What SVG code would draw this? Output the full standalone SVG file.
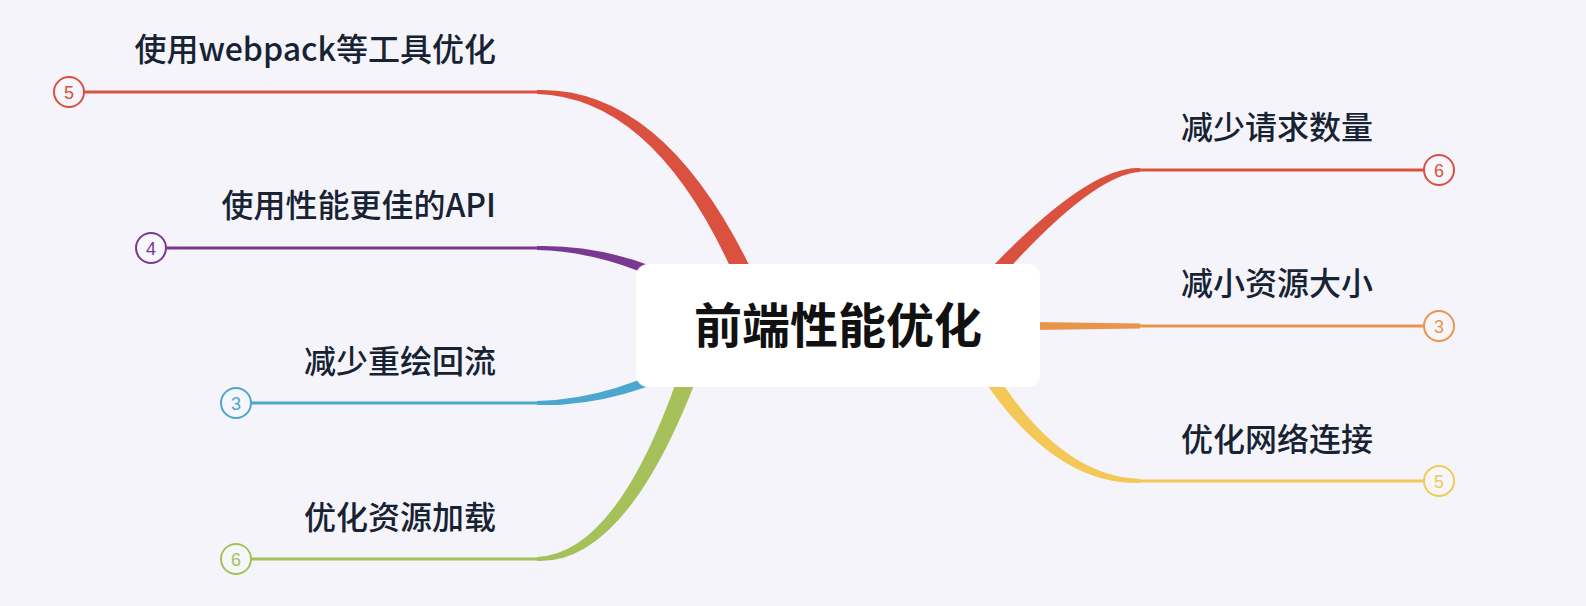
<svg xmlns="http://www.w3.org/2000/svg" width="1586" height="606" viewBox="0 0 1586 606">
<style>
.bg{fill:#F4F4FA}
.lbl{font-family:"Noto Sans CJK SC","Noto Sans",sans-serif;font-size:32px;font-weight:500;fill:#172233}
.root{font-family:"Noto Sans CJK SC","Noto Sans",sans-serif;font-size:48px;font-weight:bold;fill:#111111}
.num{font-family:"Liberation Sans","Noto Sans",sans-serif;font-size:18px;text-anchor:middle}
.ring{fill:#F6F6FB;stroke-width:2}
.thin{fill:none;stroke-width:3}
</style>
<rect class="bg" x="0" y="0" width="1586" height="606"/>
<g id="connectors">
  <path d="M537,90 Q679.1,86 774.3,321.4 L755.7,328.6 Q670.9,98 537,94 Z" fill="#DA5140"/>
  <path d="M84,92 H538" class="thin" stroke="#DA5140"/>
  <path d="M537,246 Q619.6,244 703,289.6 L697,300 Q617.4,252 537,250 Z" fill="#7A3893"/>
  <path d="M166,248 H538" class="thin" stroke="#7A3893"/>
  <path d="M537,405 Q619.6,407 703,361.4 L697,351 Q617.4,399 537,401 Z" fill="#4CA7CE"/>
  <path d="M251,403 H538" class="thin" stroke="#4CA7CE"/>
  <path d="M537,557 Q627.6,553 695.5,322 L714.5,328 Q636.4,565 537,561 Z" fill="#A6C15A"/>
  <path d="M251,559 H538" class="thin" stroke="#A6C15A"/>
  <path d="M1140,168 Q1077.7,165 943.9,319.9 L956.1,330.1 Q1082.3,175 1140,172 Z" fill="#DA5140"/>
  <path d="M1139,170 H1424" class="thin" stroke="#DA5140"/>
  <path d="M1140,323.5 L900,320 L900,332 L1140,328.5 Z" fill="#E8954A"/>
  <path d="M1139,326 H1424" class="thin" stroke="#E8954A"/>
  <path d="M1140,479 Q1043.1,476 967.1,321.3 L952.9,328.7 Q1036.9,486 1140,483 Z" fill="#F4C856"/>
  <path d="M1139,481 H1424" class="thin" stroke="#F4C856"/>
</g>
<g id="root">
  <rect x="636" y="264" width="404" height="123" rx="12" fill="#FFFFFF"/>
  <text class="root" x="838" y="343" text-anchor="middle">前端性能优化</text>
</g>
<g id="n-webpack">
  <text class="lbl" x="496" y="61" text-anchor="end">使用webpack等工具优化</text>
  <circle class="ring" cx="69" cy="92" r="15" stroke="#DA5140"/>
  <text class="num" x="69" y="98.5" fill="#DA5140">5</text>
</g>
<g id="n-api">
  <text class="lbl" x="496" y="217" text-anchor="end">使用性能更佳的API</text>
  <circle class="ring" cx="151" cy="248" r="15" stroke="#7A3893"/>
  <text class="num" x="151" y="254.5" fill="#7A3893">4</text>
</g>
<g id="n-reflow">
  <text class="lbl" x="496" y="373" text-anchor="end">减少重绘回流</text>
  <circle class="ring" cx="236" cy="403" r="15" stroke="#4CA7CE"/>
  <text class="num" x="236" y="409.5" fill="#4CA7CE">3</text>
</g>
<g id="n-load">
  <text class="lbl" x="496" y="529" text-anchor="end">优化资源加载</text>
  <circle class="ring" cx="236" cy="559" r="15" stroke="#A6C15A"/>
  <text class="num" x="236" y="565.5" fill="#A6C15A">6</text>
</g>
<g id="n-requests">
  <text class="lbl" x="1181" y="139">减少请求数量</text>
  <circle class="ring" cx="1439" cy="170" r="15" stroke="#DA5140"/>
  <text class="num" x="1439" y="176.5" fill="#DA5140">6</text>
</g>
<g id="n-size">
  <text class="lbl" x="1181" y="295">减小资源大小</text>
  <circle class="ring" cx="1439" cy="326" r="15" stroke="#E8954A"/>
  <text class="num" x="1439" y="332.5" fill="#E8954A">3</text>
</g>
<g id="n-network">
  <text class="lbl" x="1181" y="451">优化网络连接</text>
  <circle class="ring" cx="1439" cy="481" r="15" stroke="#F4C856"/>
  <text class="num" x="1439" y="487.5" fill="#F4C856">5</text>
</g>
</svg>
